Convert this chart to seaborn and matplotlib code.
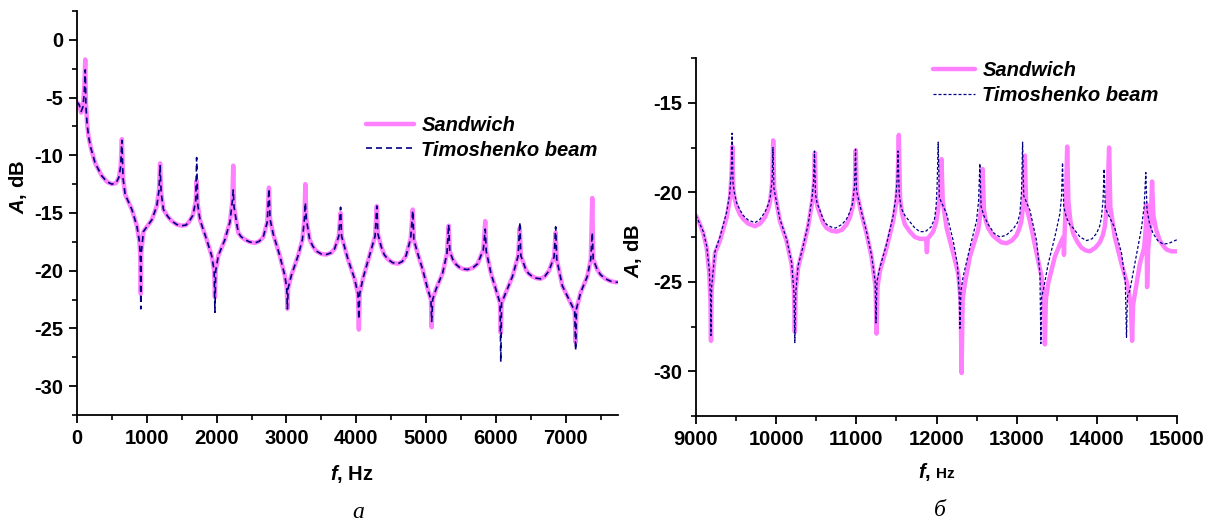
import matplotlib
matplotlib.use("Agg")
import matplotlib.pyplot as plt
from matplotlib.ticker import MultipleLocator
import seaborn as sns
import pandas as pd

# ---------------- data ----------------
# panel a: 0..7750 Hz
f_left = [0, 30, 60, 85, 105, 118, 128, 145, 166, 200,
          261, 357, 430, 500, 560, 600, 625, 643, 660, 690,
          786, 857, 895, 908, 914, 920, 952, 1071, 1143, 1175,
          1190, 1205, 1238, 1300, 1357, 1430, 1500, 1560, 1600, 1660,
          1700, 1714, 1728, 1762, 1857, 1929, 1965, 1976, 1987, 2024,
          2119, 2190, 2225, 2238, 2250, 2310, 2350, 2405, 2470, 2548,
          2610, 2667, 2725, 2750, 2765, 2810, 2905, 2976, 3005, 3014,
          3025, 3071, 3167, 3229, 3258, 3271, 3285, 3333, 3380, 3429,
          3500, 3571, 3640, 3690, 3750, 3776, 3790, 3881, 3976, 4025,
          4038, 4050, 4095, 4190, 4270, 4295, 4310, 4357, 4400, 4452,
          4520, 4595, 4660, 4714, 4780, 4810, 4825, 4880, 4952, 5024,
          5070, 5081, 5095, 5143, 5238, 5300, 5324, 5340, 5381, 5430,
          5476, 5530, 5595, 5670, 5738, 5820, 5848, 5862, 5929, 6000,
          6060, 6071, 6082, 6143, 6238, 6320, 6343, 6358, 6429, 6470,
          6524, 6580, 6643, 6700, 6762, 6835, 6857, 6872, 6952, 7048,
          7130, 7143, 7155, 7214, 7310, 7360, 7381, 7395, 7452, 7500,
          7571, 7640, 7714, 7760]
sandwich_left = [-5.4, -5.6, -6.3, -5.8, -4.0, -1.7, -5.5, -7.3, -8.4, -9.4,
                 -10.7, -11.8, -12.3, -12.5, -12.4, -11.9, -11.0, -8.6, -12.0, -13.4,
                 -14.7, -16.1, -17.5, -19.0, -22.0, -18.5, -16.6, -15.6, -14.4, -13.0,
                 -10.7, -13.2, -14.7, -15.3, -15.7, -16.0, -16.1, -16.05, -15.8, -15.2,
                 -14.0, -12.2, -14.2, -15.6, -17.3, -18.7, -20.0, -22.3, -20.0, -18.7,
                 -17.3, -15.8, -14.0, -10.9, -14.5, -16.7, -17.05, -17.3, -17.5, -17.6,
                 -17.45, -17.1, -15.8, -12.8, -15.5, -16.8, -18.7, -20.4, -21.5, -23.3,
                 -21.5, -20.4, -18.7, -17.3, -15.5, -12.5, -15.5, -17.3, -17.9, -18.3,
                 -18.55, -18.6, -18.45, -18.1, -17.0, -15.0, -17.0, -19.0, -20.7, -22.0,
                 -25.1, -22.0, -20.7, -18.7, -17.0, -14.4, -16.8, -17.9, -18.6, -19.0,
                 -19.3, -19.4, -19.2, -18.7, -17.2, -14.7, -17.3, -18.5, -19.9, -21.6,
                 -22.5, -24.9, -22.5, -21.6, -20.2, -18.5, -16.1, -18.3, -19.0, -19.45,
                 -19.7, -19.85, -19.9, -19.75, -19.4, -18.2, -15.7, -18.3, -20.2, -21.6,
                 -22.8, -25.4, -22.8, -21.9, -20.5, -18.7, -16.3, -18.7, -19.9, -20.25,
                 -20.5, -20.65, -20.7, -20.5, -20.0, -18.8, -16.7, -19.0, -21.3, -22.5,
                 -23.5, -26.2, -23.3, -21.9, -20.5, -19.0, -13.7, -19.0, -19.9, -20.35,
                 -20.7, -20.9, -21.0, -21.0]
timoshenko_left = [-5.4, -5.6, -6.2, -5.8, -4.5, -2.6, -5.8, -7.3, -8.4, -9.4,
                   -10.7, -11.8, -12.3, -12.5, -12.4, -11.9, -11.0, -8.7, -12.0, -13.4,
                   -14.7, -16.1, -17.5, -19.0, -23.3, -18.5, -16.6, -15.6, -14.4, -13.0,
                   -10.9, -13.2, -14.7, -15.3, -15.7, -16.0, -16.1, -16.05, -15.8, -15.2,
                   -14.0, -10.2, -14.2, -15.6, -17.3, -18.7, -20.0, -23.6, -20.0, -18.7,
                   -17.3, -15.8, -14.0, -13.0, -14.5, -16.7, -17.05, -17.3, -17.5, -17.6,
                   -17.45, -17.1, -15.8, -12.9, -15.5, -16.8, -18.7, -20.4, -21.5, -23.3,
                   -21.5, -20.4, -18.7, -17.3, -15.5, -14.1, -15.5, -17.3, -17.9, -18.3,
                   -18.55, -18.6, -18.45, -18.1, -17.0, -14.5, -17.0, -19.0, -20.7, -22.0,
                   -24.2, -22.0, -20.7, -18.7, -17.0, -14.4, -16.8, -17.9, -18.6, -19.0,
                   -19.3, -19.4, -19.2, -18.7, -17.2, -14.8, -17.3, -18.5, -19.9, -21.6,
                   -22.5, -24.4, -22.5, -21.6, -20.2, -18.5, -16.0, -18.3, -19.0, -19.45,
                   -19.7, -19.85, -19.9, -19.75, -19.4, -18.2, -16.4, -18.3, -20.2, -21.6,
                   -22.8, -27.9, -22.8, -21.9, -20.5, -18.7, -15.8, -18.7, -19.9, -20.25,
                   -20.5, -20.65, -20.7, -20.5, -20.0, -18.8, -16.2, -19.0, -21.3, -22.5,
                   -23.5, -26.9, -23.3, -21.9, -20.5, -19.0, -16.7, -19.0, -19.9, -20.35,
                   -20.7, -20.9, -21.0, -21.0]

# panel б: 9000..15000 Hz
f_sandwich_right = [9000, 9050, 9091, 9133, 9165, 9180, 9187, 9195, 9237, 9299,
                    9383, 9425, 9443, 9453, 9465, 9480, 9507, 9550, 9590, 9650,
                    9736, 9800, 9860, 9900, 9925, 9950, 9963, 9975, 10046, 10129,
                    10192, 10222, 10233, 10244, 10274, 10337, 10399, 10450, 10472, 10483,
                    10495, 10515, 10545, 10585, 10628, 10690, 10753, 10820, 10877, 10920,
                    10955, 10980, 10993, 11005, 11064, 11127, 11189, 11240, 11252, 11264,
                    11294, 11377, 11460, 11500, 11515, 11530, 11545, 11570, 11606, 11668,
                    11730, 11793, 11870, 11880, 11890, 11958, 11995, 12020, 12045, 12062,
                    12078, 12126, 12208, 12271, 12300, 12313, 12326, 12354, 12416, 12520,
                    12555, 12575, 12592, 12615, 12645, 12700, 12749, 12810, 12874, 12940,
                    12999, 13035, 13060, 13085, 13102, 13118, 13165, 13248, 13310, 13340,
                    13352, 13364, 13393, 13476, 13560, 13583, 13590, 13598, 13615, 13630,
                    13645, 13670, 13705, 13760, 13809, 13860, 13913, 13980, 14037, 14075,
                    14100, 14130, 14153, 14168, 14224, 14308, 14378, 14425, 14440, 14452,
                    14474, 14536, 14590, 14610, 14619, 14627, 14640, 14670, 14689, 14705,
                    14740, 14786, 14830, 14869, 14930, 15000]
sandwich_right = [-21.3, -21.8, -22.3, -23.1, -24.5, -26.0, -28.3, -25.5, -23.4, -22.7,
                  -21.4, -20.3, -19.0, -17.45, -19.8, -20.3, -20.8, -21.25, -21.5, -21.75,
                  -21.9, -21.75, -21.4, -20.95, -20.5, -19.5, -17.1, -19.8, -21.6, -22.7,
                  -24.0, -25.5, -27.8, -25.5, -24.2, -23.1, -21.9, -20.5, -19.5, -17.8,
                  -20.3, -20.8, -21.2, -21.7, -22.0, -22.15, -22.2, -22.1, -21.8, -21.4,
                  -20.8, -19.8, -17.65, -20.0, -21.2, -22.3, -23.6, -25.3, -27.9, -25.3,
                  -24.4, -23.1, -21.6, -20.5, -19.5, -16.8, -20.3, -21.2, -21.8, -22.2,
                  -22.5, -22.6, -22.6, -23.35, -22.6, -22.2, -21.7, -21.0, -20.0, -18.15,
                  -20.5, -22.0, -23.4, -24.55, -26.0, -30.1, -26.0, -25.1, -23.6, -22.1,
                  -21.0, -18.7, -21.0, -21.6, -22.0, -22.4, -22.6, -22.8, -22.85, -22.7,
                  -22.4, -22.0, -21.6, -20.5, -17.95, -20.8, -21.6, -23.4, -24.7, -26.0,
                  -28.5, -26.0, -25.1, -23.6, -22.7, -22.5, -23.5, -22.3, -20.5, -17.45,
                  -20.5, -21.6, -22.3, -22.8, -23.1, -23.25, -23.3, -23.1, -22.8, -22.4,
                  -21.9, -20.5, -17.5, -20.8, -22.5, -24.0, -25.1, -26.3, -28.3, -26.3,
                  -25.7, -24.0, -23.1, -22.0, -20.65, -25.3, -23.2, -21.8, -19.4, -21.3,
                  -22.1, -22.7, -23.0, -23.2, -23.3, -23.3]
f_timoshenko_right = [9000, 9050, 9091, 9133, 9165, 9180, 9187, 9195, 9237, 9299,
                      9383, 9420, 9440, 9450, 9462, 9478, 9507, 9550, 9590, 9650,
                      9736, 9800, 9860, 9900, 9925, 9950, 9960, 9972, 10046, 10129,
                      10192, 10222, 10233, 10244, 10274, 10337, 10399, 10445, 10467, 10478,
                      10490, 10510, 10545, 10585, 10628, 10690, 10740, 10820, 10877, 10920,
                      10955, 10978, 10990, 11002, 11064, 11127, 11189, 11235, 11245, 11257,
                      11294, 11377, 11460, 11495, 11508, 11520, 11535, 11560, 11606, 11668,
                      11730, 11793, 11860, 11930, 11975, 11995, 12008, 12021, 12035, 12126,
                      12208, 12260, 12282, 12292, 12305, 12333, 12416, 12499, 12525, 12541,
                      12556, 12590, 12645, 12720, 12790, 12870, 12957, 13010, 13040, 13060,
                      13074, 13088, 13165, 13248, 13290, 13302, 13312, 13331, 13393, 13476,
                      13539, 13560, 13572, 13587, 13620, 13660, 13705, 13790, 13871, 13940,
                      13996, 14035, 14058, 14078, 14091, 14105, 14224, 14308, 14355, 14370,
                      14382, 14411, 14474, 14557, 14590, 14611, 14626, 14660, 14702, 14760,
                      14827, 14900, 15000]
timoshenko_right = [-21.3, -21.8, -22.2, -23.0, -24.3, -25.8, -28.0, -25.3, -23.3, -22.5,
                    -21.1, -20.1, -18.9, -16.7, -19.5, -20.0, -20.6, -21.0, -21.3, -21.55,
                    -21.7, -21.5, -21.1, -20.7, -20.3, -19.3, -17.5, -19.8, -21.5, -22.6,
                    -23.9, -25.6, -28.4, -25.6, -24.1, -23.0, -21.8, -20.4, -19.4, -17.7,
                    -20.1, -20.6, -21.0, -21.5, -21.8, -21.95, -22.0, -21.8, -21.5, -21.1,
                    -20.6, -19.6, -17.6, -19.9, -21.1, -22.2, -23.5, -25.0, -27.3, -25.0,
                    -24.2, -22.9, -21.3, -20.2, -19.3, -17.7, -20.1, -20.9, -21.3, -21.65,
                    -22.0, -22.2, -22.2, -21.95, -21.5, -20.8, -19.6, -17.2, -20.3, -21.2,
                    -22.7, -24.0, -25.5, -27.6, -25.5, -24.7, -23.1, -21.6, -20.5, -18.4,
                    -20.8, -21.3, -21.8, -22.3, -22.5, -22.4, -22.05, -21.7, -21.2, -20.0,
                    -17.2, -20.2, -21.0, -22.7, -24.5, -28.45, -25.8, -25.5, -24.0, -22.5,
                    -21.2, -20.2, -18.35, -20.8, -21.4, -21.8, -22.0, -22.5, -22.7, -22.6,
                    -22.3, -21.9, -21.4, -20.4, -18.7, -20.9, -22.0, -23.4, -25.0, -28.1,
                    -25.8, -25.5, -24.0, -22.0, -20.8, -18.9, -21.0, -21.8, -22.3, -22.7,
                    -22.9, -22.85, -22.65]

series_names = ["Sandwich", "Timoshenko beam"]
left_xticks = [0, 1000, 2000, 3000, 4000, 5000, 6000, 7000]
left_yticks = [0, -5, -10, -15, -20, -25, -30]
right_xticks = [9000, 10000, 11000, 12000, 13000, 14000, 15000]
right_yticks = [-15, -20, -25, -30]
captions = ["а", "б"]

assert len(f_left) == len(sandwich_left) == len(timoshenko_left)
assert len(f_sandwich_right) == len(sandwich_right)
assert len(f_timoshenko_right) == len(timoshenko_right)

# ---------------- style ----------------
sns.set_theme(style="ticks")
plt.rcParams["font.family"] = ["Liberation Sans", "DejaVu Sans"]
plt.rcParams["axes.unicode_minus"] = False
plt.rcParams["text.color"] = "black"
plt.rcParams["mathtext.fontset"] = "custom"
plt.rcParams["mathtext.it"] = "Liberation Sans:italic:bold"
plt.rcParams["mathtext.rm"] = "Liberation Sans:bold"
plt.rcParams["mathtext.bf"] = "Liberation Sans:bold"

PINK = "#ff80ff"
NAVY = "#000080"
W, H = 1213, 525

fig = plt.figure(figsize=(W / 100, H / 100), dpi=100)
axL = fig.add_axes([77 / W, 1 - 415 / H, (618 - 77) / W, (415 - 11) / H])
axR = fig.add_axes([696 / W, 1 - 416 / H, (1177 - 696) / W, (416 - 58) / H])

dfL = pd.DataFrame({"f": f_left, "S": sandwich_left, "T": timoshenko_left})
dfRS = pd.DataFrame({"f": f_sandwich_right, "A": sandwich_right})
dfRT = pd.DataFrame({"f": f_timoshenko_right, "A": timoshenko_right})

sns.lineplot(data=dfL, x="f", y="S", ax=axL, sort=False, estimator=None, color=PINK, lw=3.2,
             label=series_names[0])
sns.lineplot(data=dfL, x="f", y="T", ax=axL, sort=False, estimator=None, color=NAVY, lw=1.2,
             label=series_names[1])
axL.lines[-1].set_dashes([3.6, 2.4])

sns.lineplot(data=dfRS, x="f", y="A", ax=axR, sort=False, estimator=None, color=PINK, lw=3.2,
             label=series_names[0])
sns.lineplot(data=dfRT, x="f", y="A", ax=axR, sort=False, estimator=None, color=NAVY, lw=0.9,
             label=series_names[1])
axR.lines[-1].set_dashes([2.4, 1.6])

for ax, xl, yl, xt, yt in [(axL, (0, 7750), (-32.5, 2.5), left_xticks, left_yticks),
                           (axR, (9000, 15000), (-32.5, -12.5), right_xticks, right_yticks)]:
    ax.set_xlim(*xl)
    ax.set_ylim(*yl)
    ax.set_xticks(xt)
    ax.set_yticks(yt)
    ax.xaxis.set_minor_locator(MultipleLocator(500))
    ax.yaxis.set_minor_locator(MultipleLocator(2.5))
    ax.set_xlabel("")
    ax.set_ylabel("")
    for s in ["top", "right"]:
        ax.spines[s].set_visible(False)
    for s in ["left", "bottom"]:
        ax.spines[s].set_linewidth(1.3)
        ax.spines[s].set_color("black")
    ax.tick_params(axis="both", which="major", direction="out", length=6, width=1.3,
                   labelsize=14.5, colors="black", labelcolor="black", pad=4)
    ax.tick_params(axis="both", which="minor", direction="out", length=3.5, width=1.2, colors="black")
    for lab in ax.get_xticklabels() + ax.get_yticklabels():
        lab.set_fontweight("bold")
    if ax.get_legend() is not None:
        ax.get_legend().remove()

# legends
legend_prop = {"family": "Liberation Sans", "weight": "bold", "style": "italic", "size": 14.5}
hL = axL.get_lines()[:2]
fig.legend(hL, series_names, loc="center left", bbox_to_anchor=(366 / W, 1 - 138 / H),
           frameon=False, borderpad=0, borderaxespad=0, handlelength=2.4, handletextpad=0.35,
           labelspacing=0.25, prop=legend_prop, labelcolor="black")
hR = axR.get_lines()[:2]
fig.legend(hR, series_names, loc="center left", bbox_to_anchor=(933 / W, 1 - 83 / H),
           frameon=False, borderpad=0, borderaxespad=0, handlelength=2.1, handletextpad=0.35,
           labelspacing=0.3, prop=legend_prop, labelcolor="black")

# axis labels
fig.text(18 / W, 1 - 187 / H, r"$A$, dB", rotation=90, ha="center", va="center",
         fontsize=14.5, fontweight="bold")
fig.text(633 / W, 1 - 251 / H, r"$A$, dB", rotation=90, ha="center", va="center",
         fontsize=14.5, fontweight="bold")
fig.text(352 / W, 1 - 474 / H, r"$f$, Hz", ha="center", va="center", fontsize=14.5, fontweight="bold")
fig.text(918 / W, 1 - 478 / H, r"$f$,", ha="left", va="baseline", fontsize=14.5, fontweight="bold")
fig.text(936 / W, 1 - 478 / H, "Hz", ha="left", va="baseline", fontsize=11, fontweight="bold")

# captions
fig.text(358 / W, 1 - 513 / H, captions[0], ha="center", va="center", fontsize=17,
         family="Liberation Serif", style="italic")
fig.text(940 / W, 1 - 511 / H, captions[1], ha="center", va="center", fontsize=17,
         family="Liberation Serif", style="italic")

fig.savefig("out.png", dpi=100, facecolor="white")
